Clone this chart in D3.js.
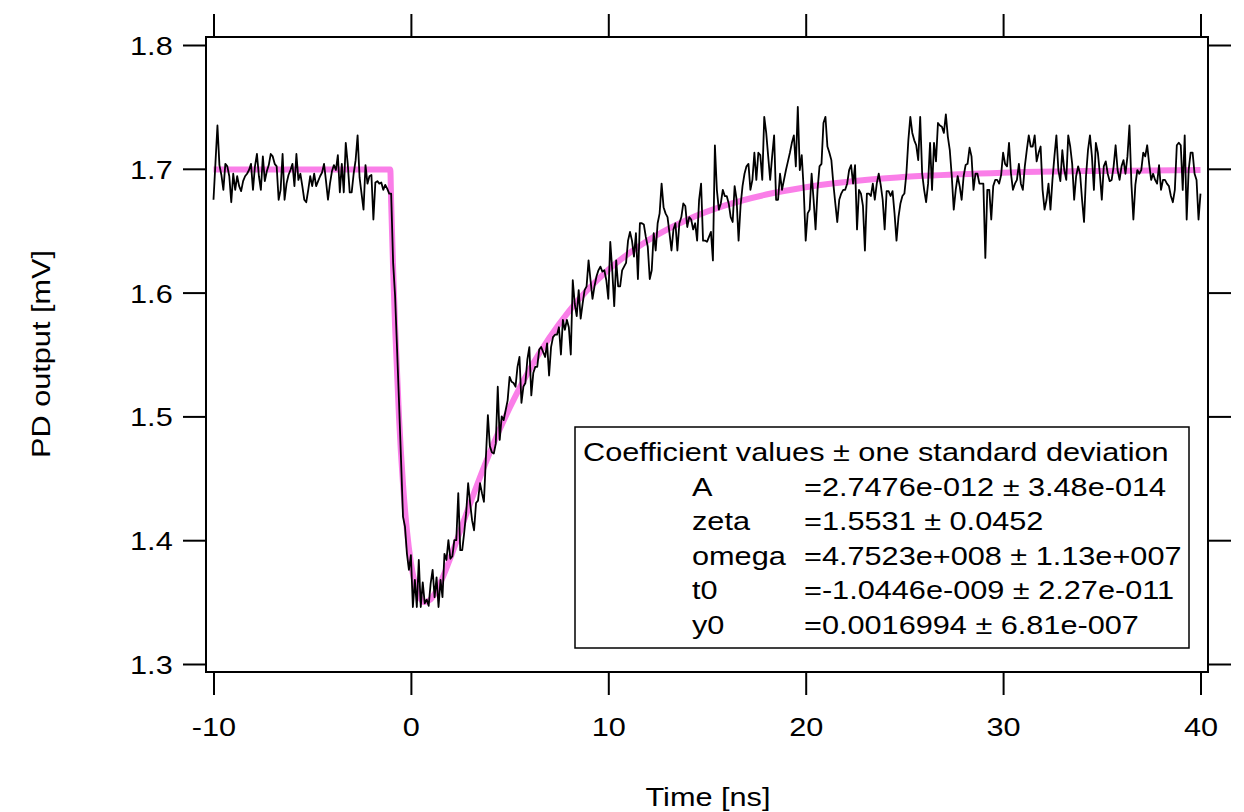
<!DOCTYPE html>
<html>
<head>
<meta charset="utf-8">
<script src="https://cdn.jsdelivr.net/npm/d3@7"></script>
<style>
  body { margin: 0; background: #fff; }
  svg { display: block; }
  text { font-family: "Liberation Sans", Arial, Helvetica, sans-serif; fill: #000; }
</style>
</head>
<body>
<svg id="chart" width="1244" height="812"></svg>
<script>
// Photodiode trace, sampled every 0.1 ns from -10 ns
const sampleStart = -10;
const sampleStep = 0.1;
const pdOutput = [
  1.675, 1.705, 1.735, 1.703, 1.695, 1.683, 1.704, 1.702, 1.694, 1.673,
  1.696, 1.683, 1.694, 1.686, 1.682, 1.690, 1.694, 1.696, 1.699, 1.704,
  1.683, 1.702, 1.712, 1.694, 1.683, 1.710, 1.690, 1.698, 1.703, 1.712,
  1.710, 1.704, 1.702, 1.675, 1.683, 1.712, 1.675, 1.688, 1.695, 1.699,
  1.704, 1.686, 1.712, 1.691, 1.696, 1.686, 1.675, 1.673, 1.683, 1.694,
  1.686, 1.696, 1.686, 1.690, 1.694, 1.697, 1.704, 1.690, 1.675, 1.688,
  1.698, 1.703, 1.699, 1.711, 1.681, 1.704, 1.681, 1.721, 1.704, 1.681,
  1.681, 1.696, 1.707, 1.727, 1.693, 1.680, 1.667, 1.703, 1.688, 1.694,
  1.695, 1.659, 1.689, 1.690, 1.688, 1.689, 1.683, 1.687, 1.684, 1.680,
  1.680, 1.624, 1.597, 1.554, 1.511, 1.465, 1.419, 1.411, 1.389, 1.376,
  1.388, 1.346, 1.368, 1.346, 1.384, 1.346, 1.366, 1.349, 1.352, 1.347,
  1.365, 1.376, 1.354, 1.370, 1.346, 1.368, 1.354, 1.389, 1.384, 1.400,
  1.385, 1.387, 1.400, 1.400, 1.438, 1.392, 1.392, 1.406, 1.422, 1.446,
  1.430, 1.416, 1.408, 1.430, 1.432, 1.446, 1.438, 1.431, 1.467, 1.501,
  1.476, 1.471, 1.470, 1.478, 1.524, 1.481, 1.500, 1.497, 1.505, 1.513,
  1.532, 1.528, 1.527, 1.524, 1.540, 1.548, 1.511, 1.524, 1.527, 1.546,
  1.556, 1.517, 1.535, 1.540, 1.540, 1.554, 1.556, 1.552, 1.548, 1.559,
  1.533, 1.556, 1.564, 1.566, 1.566, 1.572, 1.550, 1.578, 1.570, 1.578,
  1.572, 1.550, 1.610, 1.591, 1.581, 1.602, 1.579, 1.591, 1.602, 1.605,
  1.626, 1.610, 1.595, 1.605, 1.613, 1.618, 1.621, 1.617, 1.618, 1.610,
  1.595, 1.641, 1.618, 1.589, 1.626, 1.605, 1.605, 1.618, 1.621, 1.624,
  1.642, 1.649, 1.642, 1.629, 1.648, 1.611, 1.656, 1.656, 1.655, 1.645,
  1.637, 1.611, 1.618, 1.648, 1.634, 1.656, 1.664, 1.688, 1.669, 1.664,
  1.661, 1.648, 1.634, 1.651, 1.656, 1.634, 1.656, 1.661, 1.672, 1.670,
  1.653, 1.661, 1.659, 1.651, 1.656, 1.642, 1.675, 1.688, 1.642, 1.642,
  1.641, 1.645, 1.649, 1.626, 1.719, 1.683, 1.667, 1.672, 1.683, 1.678,
  1.678, 1.672, 1.661, 1.657, 1.686, 1.675, 1.642, 1.670, 1.686, 1.696,
  1.702, 1.704, 1.683, 1.691, 1.713, 1.691, 1.713, 1.711, 1.691, 1.742,
  1.729, 1.710, 1.691, 1.710, 1.727, 1.675, 1.675, 1.696, 1.683, 1.691,
  1.699, 1.706, 1.713, 1.721, 1.727, 1.702, 1.750, 1.699, 1.711, 1.683,
  1.642, 1.664, 1.667, 1.696, 1.675, 1.651, 1.683, 1.702, 1.704, 1.737,
  1.742, 1.718, 1.713, 1.707, 1.688, 1.672, 1.657, 1.675, 1.680, 1.683,
  1.683, 1.688, 1.699, 1.703, 1.688, 1.703, 1.651, 1.683, 1.680, 1.670,
  1.634, 1.680, 1.680, 1.678, 1.688, 1.675, 1.688, 1.696, 1.687, 1.675,
  1.651, 1.682, 1.682, 1.678, 1.682, 1.664, 1.642, 1.661, 1.672, 1.678,
  1.680, 1.696, 1.723, 1.742, 1.729, 1.723, 1.719, 1.707, 1.742, 1.696,
  1.683, 1.673, 1.688, 1.721, 1.683, 1.721, 1.706, 1.737, 1.735, 1.734,
  1.729, 1.744, 1.726, 1.715, 1.694, 1.667, 1.683, 1.694, 1.686, 1.675,
  1.694, 1.703, 1.704, 1.717, 1.710, 1.683, 1.696, 1.696, 1.688, 1.688,
  1.688, 1.628, 1.683, 1.683, 1.659, 1.686, 1.691, 1.691, 1.688, 1.695,
  1.713, 1.704, 1.702, 1.721, 1.696, 1.683, 1.688, 1.691, 1.704, 1.688,
  1.683, 1.702, 1.715, 1.727, 1.718, 1.718, 1.727, 1.706, 1.713, 1.718,
  1.683, 1.667, 1.675, 1.688, 1.667, 1.691, 1.710, 1.727, 1.699, 1.690,
  1.715, 1.699, 1.691, 1.727, 1.718, 1.704, 1.675, 1.694, 1.702, 1.696,
  1.675, 1.657, 1.694, 1.715, 1.727, 1.710, 1.683, 1.721, 1.713, 1.696,
  1.675, 1.702, 1.706, 1.696, 1.690, 1.691, 1.702, 1.719, 1.699, 1.691,
  1.702, 1.707, 1.696, 1.710, 1.735, 1.688, 1.659, 1.687, 1.699, 1.696,
  1.699, 1.713, 1.710, 1.719, 1.704, 1.691, 1.696, 1.691, 1.688, 1.703,
  1.683, 1.691, 1.691, 1.688, 1.686, 1.678, 1.673, 1.683, 1.719, 1.721,
  1.719, 1.683, 1.727, 1.659, 1.699, 1.713, 1.713, 1.696, 1.691, 1.659,
  1.680
];

// Fitted response curve
const fitTime = [-10, -1.0446, -1.0, -0.9, -0.8, -0.6, -0.4, -0.2, 0, 0.2, 0.4, 0.7, 1.0, 1.5,
  2, 2.5, 3, 4, 5, 6, 7, 8, 10, 12, 14, 16, 18, 20, 23, 26, 30, 35, 40];
const fitValue = [1.6994, 1.6994, 1.6726, 1.6187, 1.5723, 1.4986, 1.4453, 1.4076, 1.3819, 1.3652,
  1.3554, 1.3500, 1.3522, 1.3659, 1.3857, 1.4076, 1.4297, 1.4710, 1.5069, 1.5375, 1.5632, 1.5849,
  1.6184, 1.6421, 1.6589, 1.6708, 1.6792, 1.6851, 1.6909, 1.6943, 1.6969, 1.6983, 1.6990];

const xTicks = [-10, 0, 10, 20, 30, 40];
const yTicks = [1.3, 1.4, 1.5, 1.6, 1.7, 1.8];

const coefTitle = "Coefficient values \u00B1 one standard deviation";
const coefNames = ["A", "zeta", "omega", "t0", "y0"];
const coefValues = [
  "=2.7476e-012 \u00B1 3.48e-014",
  "=1.5531 \u00B1 0.0452",
  "=4.7523e+008 \u00B1 1.13e+007",
  "=-1.0446e-009 \u00B1 2.27e-011",
  "=0.0016994 \u00B1 6.81e-007"
];

// ---- layout ----
const frame = { left: 206, right: 1208, top: 37, bottom: 672 };
const tickLen = 23;
const fontSize = 26;
const stretch = 1.18;   // wide lettering

const svg = d3.select("#chart");
const x = d3.scaleLinear().domain([-10, 40]).range([213.5, 1200.5]);
const y = d3.scaleLinear().domain([1.3, 1.8]).range([664, 45]);

// widen a text element horizontally around its own anchor
function widen(sel) {
  sel.each(function () {
    const t = d3.select(this);
    const x0 = +(t.attr("x") || 0);
    const y0 = +(t.attr("y") || 0);
    t.attr("x", 0).attr("y", 0)
     .attr("transform", `translate(${x0},${y0}) scale(${stretch},1)`);
  });
}

// ---- curves ----
const fitPoints = fitTime.map((t, i) => [t, fitValue[i]]);
svg.append("path")
  .datum(fitPoints)
  .attr("fill", "none")
  .attr("stroke", "#fa7ee8")
  .attr("stroke-width", 6)
  .attr("stroke-linejoin", "round")
  .attr("d", d3.line().x(d => x(d[0])).y(d => y(d[1])).curve(d3.curveMonotoneX));

svg.append("path")
  .datum(pdOutput)
  .attr("fill", "none")
  .attr("stroke", "#000")
  .attr("stroke-width", 1.8)
  .attr("stroke-linejoin", "round")
  .attr("d", d3.line().x((d, i) => x(sampleStart + i * sampleStep)).y(d => y(d)));

// ---- axes ----
function styleAxis(g) {
  g.select(".domain").remove();
  g.selectAll(".tick line").attr("stroke", "#000").attr("stroke-width", 2);
  g.selectAll(".tick text")
    .attr("font-size", fontSize)
    .attr("font-family", "Liberation Sans, Arial, Helvetica, sans-serif")
    .attr("fill", "#000");
}

const gBottom = svg.append("g")
  .attr("transform", `translate(0,${frame.bottom})`)
  .call(d3.axisBottom(x).tickValues(xTicks).tickSize(tickLen).tickPadding(22.5).tickFormat(d => String(d)))
  .call(styleAxis);
gBottom.selectAll(".tick text").attr("dy", null).attr("y", 23 + 22.5 + 18.6).call(widen);

svg.append("g")
  .attr("transform", `translate(0,${frame.top})`)
  .call(d3.axisTop(x).tickValues(xTicks).tickSize(tickLen).tickFormat(""))
  .call(styleAxis);

const gLeft = svg.append("g")
  .attr("transform", `translate(${frame.left},0)`)
  .call(d3.axisLeft(y).tickValues(yTicks).tickSize(tickLen).tickPadding(10.3).tickFormat(d3.format(".1f")))
  .call(styleAxis);
gLeft.selectAll(".tick text").attr("dy", null).attr("y", 9.5).call(widen);

svg.append("g")
  .attr("transform", `translate(${frame.right},0)`)
  .call(d3.axisRight(y).tickValues(yTicks).tickSize(tickLen).tickFormat(""))
  .call(styleAxis);

// plot frame
svg.append("rect")
  .attr("x", frame.left).attr("y", frame.top)
  .attr("width", frame.right - frame.left).attr("height", frame.bottom - frame.top)
  .attr("fill", "none").attr("stroke", "#000").attr("stroke-width", 2);

// ---- axis titles ----
svg.append("text")
  .attr("x", 708).attr("y", 806)
  .attr("text-anchor", "middle")
  .attr("font-size", fontSize)
  .text("Time [ns]")
  .call(widen);

svg.append("g")
  .attr("transform", "translate(50,354) rotate(-90)")
  .append("text")
  .attr("text-anchor", "middle")
  .attr("font-size", fontSize)
  .text("PD output [mV]")
  .call(widen);

// ---- coefficient box ----
const box = svg.append("g");
box.append("rect")
  .attr("x", 575).attr("y", 427).attr("width", 614).attr("height", 221)
  .attr("fill", "#fff").attr("stroke", "#000").attr("stroke-width", 1.5);

box.append("text")
  .attr("x", 583).attr("y", 461)
  .attr("font-size", fontSize)
  .text(coefTitle)
  .call(widen);

const rowGap = 34.4;
coefNames.forEach((name, i) => {
  const by = 496 + i * rowGap;
  box.append("text").attr("x", 692).attr("y", by).attr("font-size", fontSize).text(name).call(widen);
  box.append("text").attr("x", 804).attr("y", by).attr("font-size", fontSize).text(coefValues[i]).call(widen);
});
</script>
</body>
</html>
